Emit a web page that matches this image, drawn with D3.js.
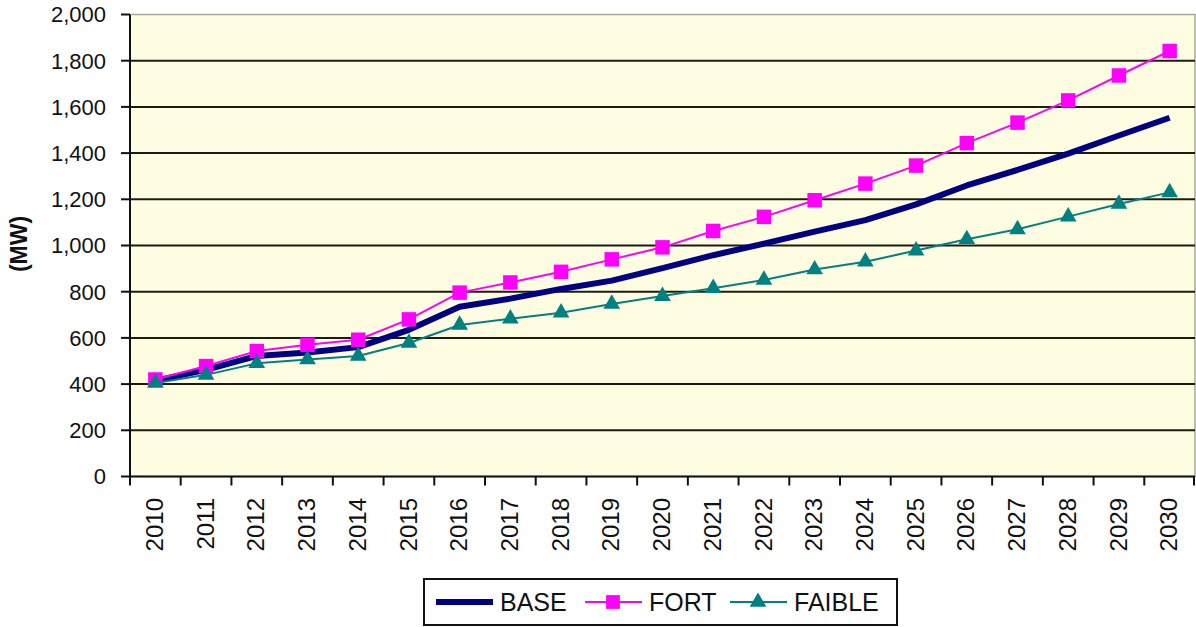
<html>
<head>
	<meta charset="utf-8">
	<title>MW scenarios</title>
	<script src="https://d3js.org/d3.v7.min.js"></script>
	<style>
		body {
			margin: 0;
			background: #fff;
		}
		text {
			font-family: "Liberation Sans", Arial, sans-serif;
			fill: #111;
		}
		.grid line {
			stroke: #1c1c14;
			stroke-width: 2px;
		}
		.axis line {
			stroke: #111;
			stroke-width: 2px;
		}
	</style>
</head>
<body>
	<svg id="chart" width="1196" height="627"></svg>
</body>
<script>

//
// Data
//

var years = ["2010", "2011", "2012", "2013", "2014", "2015", "2016", "2017", "2018", "2019", "2020",
	"2021", "2022", "2023", "2024", "2025", "2026", "2027", "2028", "2029", "2030"];

var base = [415, 462, 522, 537, 560, 635, 735, 770, 812, 848, 902, 958, 1008, 1060, 1110, 1178, 1260, 1327, 1398, 1476, 1553];
var fort = [420, 478, 543, 570, 592, 680, 796, 840, 886, 940, 992, 1063, 1124, 1196, 1268, 1346, 1443, 1532, 1628, 1736, 1842];
var faible = [405, 440, 490, 507, 522, 578, 656, 683, 709, 747, 781, 815, 851, 896, 930, 978, 1027, 1070, 1125, 1180, 1230];

var yTicks = [0, 200, 400, 600, 800, 1000, 1200, 1400, 1600, 1800, 2000];

var series = [
	{ name: "BASE", values: base, color: "#000080", width: 6, marker: null },
	{ name: "FORT", values: fort, color: "#ff00ff", width: 2, marker: d3.symbolSquare },
	{ name: "FAIBLE", values: faible, color: "#008080", width: 2, marker: d3.symbolTriangle }
];

//
// Scales
//

var plot = { left: 130, right: 1195, top: 14.5, bottom: 476.5 };

var svg = d3.select("#chart");

var x = d3.scaleBand()
	.domain(years)
	.range([plot.left, plot.right])
	.padding(0);

var y = d3.scaleLinear()
	.domain([0, 2000])
	.range([plot.bottom, plot.top]);

function cx(i) { return x(years[i]) + x.bandwidth() / 2; }

//
// Plot background and grid
//

svg.append("rect")
	.attr("x", plot.left)
	.attr("y", plot.top)
	.attr("width", plot.right - plot.left)
	.attr("height", plot.bottom - plot.top)
	.attr("fill", "#fffde1")
	.attr("stroke", "#a8a8a0")
	.attr("stroke-width", 1.5);

var gridG = svg.append("g").attr("class", "grid");
yTicks.filter(function(d) { return d > 0 && d < 2000; }).forEach(function(d) {
	gridG.append("line")
		.attr("x1", plot.left)
		.attr("x2", plot.right)
		.attr("y1", y(d))
		.attr("y2", y(d));
});

//
// Axes
//

var axisG = svg.append("g").attr("class", "axis");

// y axis line, ticks and labels
axisG.append("line")
	.attr("x1", plot.left).attr("x2", plot.left)
	.attr("y1", plot.top).attr("y2", plot.bottom + 1);

yTicks.forEach(function(d) {
	axisG.append("line")
		.attr("x1", plot.left - 9).attr("x2", plot.left)
		.attr("y1", y(d)).attr("y2", y(d));
	axisG.append("text")
		.attr("x", plot.left - 24)
		.attr("y", y(d))
		.attr("dy", "0.36em")
		.attr("text-anchor", "end")
		.style("font-size", "22px")
		.text(d3.format(",")(d));
});

// x axis line, ticks on category edges, rotated labels
axisG.append("line")
	.attr("x1", plot.left - 1).attr("x2", plot.right)
	.attr("y1", plot.bottom).attr("y2", plot.bottom);

years.concat([null]).forEach(function(d, i) {
	var xe = d === null ? plot.right - 1 : x(d);
	axisG.append("line")
		.attr("x1", xe).attr("x2", xe)
		.attr("y1", plot.bottom).attr("y2", plot.bottom + 9);
});

years.forEach(function(d, i) {
	axisG.append("text")
		.attr("transform", "translate(" + (cx(i) - 1) + "," + 498 + ") rotate(-90)")
		.attr("dy", "0.36em")
		.attr("text-anchor", "end")
		.style("font-size", "24px")
		.text(d);
});

// y axis title
svg.append("text")
	.attr("transform", "translate(19,244) rotate(-90)")
	.attr("dy", "0.36em")
	.attr("text-anchor", "middle")
	.style("font-size", "23px")
	.style("font-weight", "bold")
	.text("(MW)");

//
// Lines and markers
//

var line = d3.line()
	.x(function(d, i) { return cx(i); })
	.y(function(d) { return y(d); });

var seriesG = svg.append("g").attr("class", "series");

series.forEach(function(s) {
	seriesG.append("path")
		.datum(s.values)
		.attr("d", line)
		.attr("fill", "none")
		.attr("stroke", s.color)
		.attr("stroke-width", s.width)
		.attr("stroke-linejoin", "round");
	if (s.marker) {
		var sym = d3.symbol().type(s.marker).size(s.marker === d3.symbolSquare ? 210 : 120);
		seriesG.selectAll(null)
			.data(s.values)
			.enter().append("path")
				.attr("d", sym)
				.attr("transform", function(d, i) { return "translate(" + cx(i) + "," + y(d) + ")"; })
				.attr("fill", s.color);
	}
});

//
// Legend
//

var legend = svg.append("g").attr("class", "legend");

legend.append("rect")
	.attr("x", 424)
	.attr("y", 579)
	.attr("width", 473)
	.attr("height", 46)
	.attr("fill", "#fff")
	.attr("stroke", "#111")
	.attr("stroke-width", 2);

var legendX = [436, 585, 730];
series.forEach(function(s, i) {
	var lx = legendX[i];
	var ly = 602;
	legend.append("line")
		.attr("x1", lx).attr("x2", lx + 57)
		.attr("y1", ly).attr("y2", ly)
		.attr("stroke", s.color)
		.attr("stroke-width", s.width);
	if (s.marker) {
		legend.append("path")
			.attr("d", d3.symbol().type(s.marker).size(s.marker === d3.symbolSquare ? 190 : 120))
			.attr("transform", "translate(" + (lx + 28) + "," + ly + ")")
			.attr("fill", s.color);
	}
	legend.append("text")
		.attr("x", lx + 64)
		.attr("y", ly)
		.attr("dy", "0.36em")
		.style("font-size", "25px")
		.text(s.name);
});

</script>
</html>
